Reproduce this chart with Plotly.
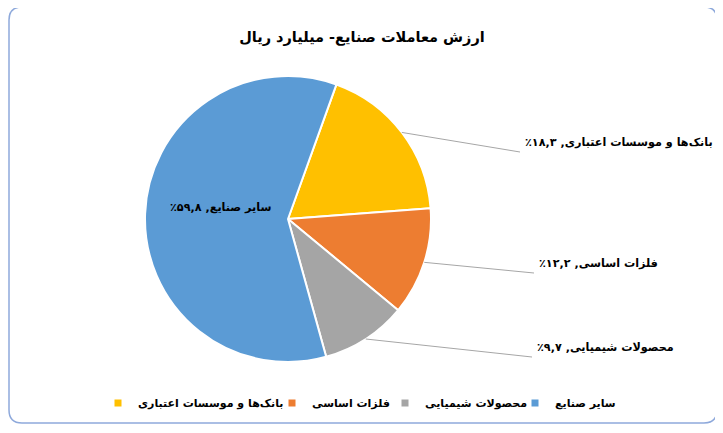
import math
import plotly.graph_objects as go

# data (share of trade value, percent)
labels = ["بانک‌ها و موسسات اعتباری", "فلزات اساسی", "محصولات شیمیایی", "سایر صنایع"]
shares = [18.3, 12.2, 9.7, 59.8]
colors = ["#FFC000", "#ED7D31", "#A5A5A5", "#5B9BD5"]
title = "ارزش معاملات صنایع- میلیارد ریال"

# the page body has an 8px margin, so the figure is drawn 8px smaller and
# every position below is given in window pixels, then shifted
OFF = 8
W, H = 723 - OFF, 433 - OFF
CX, CY, R = 288, 219, 143      # pie centre and radius, window px
ROT = 19.8                      # first slice starts this many degrees clockwise from 12 o'clock
FONT = "DejaVu Sans"
LINE_END = [(520, 152), (534, 273), (532, 357)]   # where the leader lines meet the labels
LEGEND_X = [133, 307, 420, 550]                   # where each legend text begins
LEGEND_Y = 403
RLE, PDF = "\u202b", "\u202c"


def fa_num(v):
    digits = "۰۱۲۳۴۵۶۷۸۹"
    s = "".join(digits[int(c)] if c.isdigit() else "," for c in f"{v:.1f}")
    return s + "٪"


def px(x, y):
    return (x - OFF) / W, 1 - (y - OFF) / H


x0d, y1d = px(CX - R, CY - R)
x1d, y0d = px(CX + R, CY + R)
fig = go.Figure(go.Pie(
    labels=labels, values=shares, sort=False, direction="clockwise",
    rotation=ROT, textinfo="none", hoverinfo="label+percent", showlegend=False,
    marker=dict(colors=colors, line=dict(color="white", width=2)),
    domain=dict(x=[x0d, x1d], y=[y0d, y1d]),
))

# one legend per category so each entry sits where the reference has it
leg_font = dict(family=FONT, size=11, color="black", weight="bold")
legends = {}
for i, (lab, col) in enumerate(zip(labels, colors)):
    key = "legend" if i == 0 else f"legend{i + 1}"
    fig.add_trace(go.Scatter(x=[None], y=[None], mode="markers", name=lab, legend=key,
                             marker=dict(symbol="square", size=7, color=col)))
    lx, ly = px(LEGEND_X[i] - 35, LEGEND_Y)
    legends[key] = dict(orientation="h", x=lx, xanchor="left", y=ly, yanchor="middle",
                        font=leg_font, itemwidth=30, bgcolor="rgba(0,0,0,0)")

# slice label positions from the cumulative shares
total = sum(shares)
cum = 0
mids = []
for v in shares:
    mids.append(math.radians(ROT + (cum + v / 2) / total * 360))
    cum += v

lab_font = dict(family=FONT, size=11.2, color="black", weight="bold")
annotations = []
shapes = []
for i, (lab, v) in enumerate(zip(labels, shares)):
    a = mids[i]
    text = f"{RLE}{lab}, {fa_num(v)}{PDF}"
    if i < len(LINE_END):
        ex, ey = CX + R * math.sin(a), CY - R * math.cos(a)
        lx, ly = LINE_END[i]
        x0, y0 = px(ex, ey)
        x1, y1 = px(lx, ly)
        shapes.append(dict(type="line", xref="paper", yref="paper", x0=x0, y0=y0, x1=x1, y1=y1,
                           line=dict(color="#A6A6A6", width=1)))
        tx, ty = px(lx + 3, ly - 10)
        annotations.append(dict(text=text, x=tx, y=ty, xref="paper", yref="paper",
                                xanchor="left", yanchor="middle", showarrow=False, font=lab_font))
    else:
        ix, iy = CX + 0.47 * R * math.sin(a), CY - 0.47 * R * math.cos(a)
        tx, ty = px(ix, iy)
        annotations.append(dict(text=text, x=tx, y=ty, xref="paper", yref="paper",
                                xanchor="center", yanchor="middle", showarrow=False, yshift=9,
                                font=lab_font))

# rounded frame around the chart
l, r, t, b, c = 9, 717, 7, 423, 13
pts = [(l + c, t), (r - c, t), (r, t), (r, t + c), (r, b - c), (r, b), (r - c, b),
       (l + c, b), (l, b), (l, b - c), (l, t + c), (l, t), (l + c, t)]
p = [px(*q) for q in pts]
path = (f"M{p[0][0]},{p[0][1]} L{p[1][0]},{p[1][1]} Q{p[2][0]},{p[2][1]} {p[3][0]},{p[3][1]} "
        f"L{p[4][0]},{p[4][1]} Q{p[5][0]},{p[5][1]} {p[6][0]},{p[6][1]} "
        f"L{p[7][0]},{p[7][1]} Q{p[8][0]},{p[8][1]} {p[9][0]},{p[9][1]} "
        f"L{p[10][0]},{p[10][1]} Q{p[11][0]},{p[11][1]} {p[12][0]},{p[12][1]} Z")
shapes.append(dict(type="path", xref="paper", yref="paper", path=path,
                   line=dict(color="#8EA9DB", width=1.5)))

tx, ty = px(362, 37)
fig.update_layout(
    width=W, height=H, margin=dict(l=0, r=0, t=0, b=0),
    paper_bgcolor="white", plot_bgcolor="white",
    xaxis=dict(visible=False), yaxis=dict(visible=False),
    title=dict(text=title, x=tx, xanchor="center", y=ty, yanchor="middle",
               font=dict(family=FONT, size=14.5, color="black", weight="bold")),
    annotations=annotations, shapes=shapes,
    **legends,
)

fig.write_html("out.html")
